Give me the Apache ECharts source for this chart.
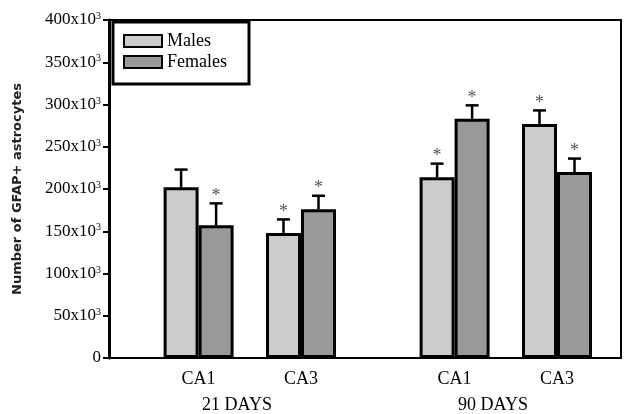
<!DOCTYPE html>
<html>
<head>
<meta charset="utf-8">
<script src="https://cdn.jsdelivr.net/npm/echarts@6/dist/echarts.min.js"></script>
<style>html,body{margin:0;padding:0;background:#fff}#c{width:625px;height:414px}</style>
</head>
<body>
<div id="c"></div>
<script>
// ---- data ----
var regions = ['CA1', 'CA3', 'CA1', 'CA3'];
var periods = ['21 DAYS', '90 DAYS'];
var males = [202, 148, 214, 277];          // x10^3
var malesErr = [21, 16, 16, 16];
var females = [157, 176, 283, 220];
var femalesErr = [26, 16, 16, 16];
var malesSig = [0, 1, 1, 1];
var femalesSig = [1, 1, 1, 1];
var yTicks = [0, 50, 100, 150, 200, 250, 300, 350, 400];

// ---- layout (slot positions on a fine category axis) ----
var SLOTS = 20;
var slotOf = [3, 7, 13, 17];
var BAR_W = 35;
var SERIF = 'Liberation Serif';

var cats = [];
for (var i = 0; i < SLOTS; i++) cats.push('');
slotOf.forEach(function (s, k) { cats[s] = regions[k]; });

function slotSeries(vals) {
  var arr = [];
  for (var i = 0; i < SLOTS; i++) arr.push('-');
  slotOf.forEach(function (s, k) { arr[s] = vals[k]; });
  return arr;
}
function errData(vals, errs, sig) {
  return slotOf.map(function (s, k) { return [s, vals[k], vals[k] + errs[k], sig[k]]; });
}
function errRender(off) {
  return function (params, api) {
    var slot = api.value(0), v = api.value(1), up = api.value(2), sig = api.value(3);
    var b = api.coord([slot, v]);
    var t = api.coord([slot, up]);
    var x = b[0] + off;
    var ch = [
      { type: 'line', shape: { x1: x, y1: b[1], x2: x, y2: t[1] }, style: { stroke: '#000', lineWidth: 2.5 } },
      { type: 'line', shape: { x1: x - 6.5, y1: t[1], x2: x + 6.5, y2: t[1] }, style: { stroke: '#000', lineWidth: 2.5 } }
    ];
    if (sig) {
      ch.push({ type: 'text', style: { x: x, y: t[1] - 7, text: '*', fill: '#555', font: '18px "' + SERIF + '"', align: 'center', verticalAlign: 'middle' } });
    }
    return { type: 'group', children: ch };
  };
}

var chart = echarts.init(document.getElementById('c'));
chart.setOption({
  animation: false,
  backgroundColor: '#fff',
  grid: { left: 109, right: 4, top: 20, bottom: 55, show: true, borderColor: '#000', borderWidth: 2 },
  legend: {
    data: ['Males', 'Females'],
    orient: 'vertical',
    left: 113, top: 22,
    padding: [10, 22, 13, 10],
    itemGap: 3,
    itemWidth: 38, itemHeight: 12,
    borderColor: '#000', borderWidth: 3,
    backgroundColor: '#fff',
    textStyle: { fontFamily: SERIF, fontSize: 18, color: '#000' },
    icon: 'rect'
  },
  xAxis: [{
    type: 'category',
    data: cats,
    boundaryGap: true,
    axisLine: { lineStyle: { color: '#000', width: 2 } },
    axisTick: { length: 6, lineStyle: { color: '#000', width: 2 }, interval: function (i) { return i % 5 === 0; } },
    axisLabel: { interval: 0, margin: 12, fontFamily: SERIF, fontSize: 18, color: '#000' },
    splitLine: { show: false }
  }, {
    type: 'category',
    data: periods,
    position: 'bottom',
    offset: 26,
    axisLine: { show: false },
    axisTick: { show: false },
    axisLabel: { interval: 0, margin: 12, fontFamily: SERIF, fontSize: 18, color: '#000' }
  }],
  yAxis: {
    type: 'value',
    min: yTicks[0], max: yTicks[yTicks.length - 1], interval: 50,
    name: 'Number of GFAP+ astrocytes',
    nameLocation: 'middle',
    nameGap: 85,
    nameTextStyle: { fontFamily: 'DejaVu Sans', fontWeight: 'bold', fontSize: 13, color: '#222' },
    axisLine: { show: true, lineStyle: { color: '#000', width: 3 } },
    axisTick: { show: true, length: 6, lineStyle: { color: '#000', width: 2 } },
    splitLine: { show: false },
    axisLabel: {
      margin: 8,
      fontFamily: SERIF, fontSize: 17, color: '#000',
      formatter: function (v) { return v === 0 ? '0' : v + 'x10{s|3}'; },
      rich: { s: { fontFamily: SERIF, fontSize: 10, color: '#000', verticalAlign: 'top', padding: [0, 0, 6, 0] } }
    }
  },
  series: [{
    name: 'Males', type: 'bar', data: slotSeries(males),
    barWidth: BAR_W, barGap: '0%',
    itemStyle: { color: '#cccccc', borderColor: '#000', borderWidth: 3 }
  }, {
    name: 'Females', type: 'bar', data: slotSeries(females),
    barWidth: BAR_W, barGap: '0%',
    itemStyle: { color: '#999999', borderColor: '#000', borderWidth: 3 }
  }, {
    type: 'custom', name: 'mErr', data: errData(males, malesErr, malesSig),
    renderItem: errRender(-BAR_W / 2), z: 5, encode: { x: 0, y: [1, 2] }
  }, {
    type: 'custom', name: 'fErr', data: errData(females, femalesErr, femalesSig),
    renderItem: errRender(BAR_W / 2), z: 5, encode: { x: 0, y: [1, 2] }
  }]
});
</script>
</body>
</html>
